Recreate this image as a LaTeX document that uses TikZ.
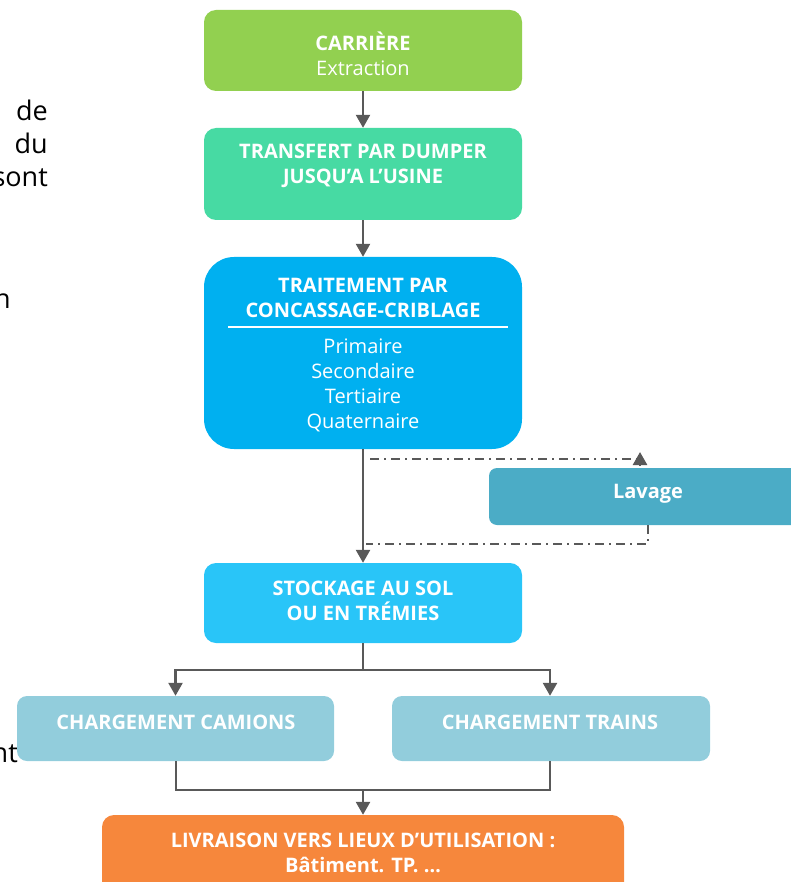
\documentclass[tikz,border=0pt]{standalone}
\usepackage{fontspec}
\setmainfont{Open Sans}
\newfontfamily\pagefont{Open Sans}
\usetikzlibrary{arrows.meta}

\definecolor{carriere}{HTML}{92D050}
\definecolor{transfert}{HTML}{47DAA3}
\definecolor{traitement}{HTML}{00B0F0}
\definecolor{lavage}{HTML}{4BACC6}
\definecolor{stockage}{HTML}{29C5F8}
\definecolor{chargement}{HTML}{92CDDC}
\definecolor{livraison}{HTML}{F6873C}
\definecolor{linegray}{HTML}{595959}

\begin{document}
\begin{tikzpicture}[
        x=1pt, y=-1pt,
        >={Triangle[length=13pt,width=14pt]}
    ]

    \tikzstyle{box}=[rounded corners=12pt, text=white, align=center, inner sep=0pt, minimum width=318pt]
    \tikzstyle{boxtext}=[text=white, align=center, font=\fontsize{20}{25}\selectfont]
    \tikzstyle{link}=[draw=linegray, line width=2.5pt]
    \tikzstyle{dashlink}=[draw=linegray, line width=2pt, dash pattern=on 9pt off 5pt on 2pt off 5pt]
    \tikzstyle{pagetext}=[anchor=base east, inner sep=0pt, font=\pagefont\fontsize{27}{33}\selectfont]

    \useasboundingbox (0,0) rectangle (791,882);

    % bits of the page text beside the figure
    \node[pagetext] (de) at (48,121) {de};
    \node[pagetext] (du) at (48,154) {du};
    \node[pagetext] (sont) at (48,187) {sont};
    \node[pagetext] (n) at (11,308) {n};
    \node[pagetext] (nt) at (18,762) {nt};

    % boxes
    \node[box, fill=carriere, minimum height=81pt] (carriere) at (363,50.5) {};
    \node[boxtext] (carrieretxt) at (363,54) {\textbf{CARRIÈRE}\\Extraction};

    \node[box, fill=transfert, minimum height=92pt] (transfert) at (363,174) {};
    \node[boxtext] (transferttxt) at (363,166) {\textbf{TRANSFERT PAR DUMPER}\\\textbf{JUSQU'A L’USINE}};

    \node[box, fill=traitement, rounded corners=30pt, minimum height=192pt] (traitement) at (363,353) {};
    \node[boxtext] (traitementtitre) at (363,298) {\textbf{TRAITEMENT PAR}\\\textbf{CONCASSAGE-CRIBLAGE}};
    \draw[white, line width=1.5pt] (228,327) -- (508,327);
    \node[boxtext] (traitementliste) at (363,385) {Primaire\\Secondaire\\Tertiaire\\Quaternaire};

    \node[box, fill=lavage, rounded corners=8pt, minimum width=310pt, minimum height=57pt] (lavage) at (644,496.5) {};
    \node[boxtext] (lavagetxt) at (648,494) {\textbf{Lavage}};

    \node[box, fill=stockage, minimum height=80pt] (stockage) at (363,603) {};
    \node[boxtext] (stockagetxt) at (363,600.5) {\textbf{STOCKAGE AU SOL}\\\textbf{OU EN TRÉMIES}};

    \node[box, fill=chargement, rounded corners=10pt, minimum width=317pt, minimum height=65pt] (camions) at (175.5,728.5) {};
    \node[boxtext] (camionstxt) at (176,722) {\textbf{CHARGEMENT CAMIONS}};

    \node[box, fill=chargement, rounded corners=10pt, minimum width=318pt, minimum height=65pt] (trains) at (551,728.5) {};
    \node[boxtext] (trainstxt) at (550,722) {\textbf{CHARGEMENT TRAINS}};

    \node[box, fill=livraison, rounded corners=12pt, minimum width=522pt, minimum height=80pt] (livraison) at (363,855) {};
    \node[boxtext] (livraisontxt) at (363,853) {\textbf{LIVRAISON VERS LIEUX D’UTILISATION :}\\\textbf{Bâtiment. TP. …}};

    % connectors
    \draw[link, ->] (carriere) -- (transfert);
    \draw[link, ->] (transfert) -- (traitement);
    \draw[link, ->] (traitement) -- (stockage);

    \coordinate (versLavage) at (370,459);
    \coordinate (lavageIn) at (640,452);
    \coordinate (retour) at (366,544);
    \draw[dashlink] (versLavage) -- (versLavage -| lavageIn);
    \draw[link, ->] ([yshift=-14pt]lavageIn) -- (lavageIn);
    \draw[dashlink] (lavage.south -| lavagetxt) |- (retour);

    \coordinate (split) at (363,670);
    \draw[link] (stockage) -- (split);
    \draw[link, ->] (split) -| (camions.north);
    \draw[link, ->] (split) -| (trains.north -| trainstxt);

    \coordinate (merge) at (363,790);
    \draw[link] (camions.south -| camionstxt) |- (merge) -| (trains.south -| trainstxt);
    \draw[link, ->] (merge) -- (livraison);

\end{tikzpicture}
\end{document}
